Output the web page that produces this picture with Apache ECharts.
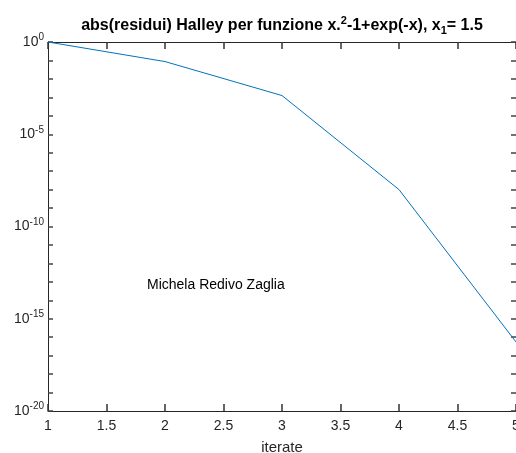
<!DOCTYPE html>
<html><head><meta charset="utf-8">
<script src="https://cdn.jsdelivr.net/npm/echarts@6/dist/echarts.min.js"></script>
<style>html,body{margin:0;padding:0;background:#fff}#c{width:516px;height:453px}</style>
</head><body><div id="c"></div>
<script>
const iterations = [1, 2, 3, 4, 5];
const residuals = [1.0, 0.087, 1.25e-3, 1.0e-8, 5.5e-17];
const xTicks = [1, 1.5, 2, 2.5, 3, 3.5, 4, 4.5, 5];
const yLabelExponents = [0, -5, -10, -15, -20];
const titleText = 'abs(residui) Halley per funzione x.{sup|2}-1+exp(-x), x{sub|1}= 1.5';
const annotation = 'Michela Redivo Zaglia';
const xName = 'iterate';

const FONT = '"Liberation Sans", Arial, Helvetica, sans-serif';
const AX = '#262626';
const chart = echarts.init(document.getElementById('c'));

function yLabel(v) {
  const e = Math.round(Math.log10(v));
  if (yLabelExponents.indexOf(e) < 0) return '';
  return '{b|10}{sup|' + e + '}';
}
function axLine() { return { show: true, onZero: false, lineStyle: { color: AX, width: 1 } }; }
function axTick(w, c, len) { return { show: true, inside: true, length: len, lineStyle: { color: c, width: w } }; }

function makeX(pos, withLabels) {
  const a = {
    type: 'value', min: 1, max: 5, interval: 0.5, position: pos,
    axisLine: axLine(), axisTick: axTick(1.5, '#333333', 7), splitLine: { show: false },
    axisLabel: { show: false }
  };
  if (withLabels) {
    a.name = xName; a.nameLocation = 'middle'; a.nameGap = 29;
    a.nameTextStyle = { fontFamily: FONT, fontSize: 15, color: AX };
    a.axisLabel = { show: true, margin: 8, fontFamily: FONT, fontSize: 14, color: AX,
      formatter: v => (xTicks.indexOf(v) >= 0 ? String(v) : '') };
  }
  return a;
}
function makeY(pos, withLabels) {
  const a = {
    type: 'log', logBase: 10, min: 1e-20, max: 1, interval: 1, position: pos,
    axisLine: axLine(), axisTick: axTick(1.5, '#444444', 5), splitLine: { show: false },
    axisLabel: { show: false }
  };
  if (withLabels) {
    a.axisLabel = { show: true, margin: 4, fontFamily: FONT, fontSize: 14, color: AX,
      formatter: yLabel, showMinLabel: true, showMaxLabel: true,
      rich: {
        b: { fontSize: 14, fontFamily: FONT, color: AX },
        sup: { fontSize: 10, fontFamily: FONT, color: AX, padding: [0, 0, 9, 0] }
      } };
  }
  return a;
}

chart.setOption({
  animation: false,
  backgroundColor: '#fff',
  title: {
    text: titleText, left: 277, top: 10, textAlign: 'center',
    textStyle: {
      fontFamily: FONT, fontSize: 16, fontWeight: 'bold', color: '#000',
      rich: {
        sup: { fontSize: 11, fontWeight: 'bold', fontFamily: FONT, color: '#000', padding: [0, 0, 11, 0] },
        sub: { fontSize: 11, fontWeight: 'bold', fontFamily: FONT, color: '#000', padding: [9, 0, 0, 0] }
      }
    }
  },
  grid: { left: 48, right: 0, top: 42, bottom: 42, containLabel: false, outerBoundsMode: 'none' },
  xAxis: [makeX('bottom', true), makeX('top', false)],
  yAxis: [makeY('left', true), makeY('right', false)],
  graphic: [{
    type: 'text', left: 147, top: 278,
    style: { text: annotation, fontFamily: FONT, fontSize: 14, fill: '#000' }
  }],
  series: [{
    type: 'line', xAxisIndex: 0, yAxisIndex: 0,
    data: iterations.map((x, i) => [x, residuals[i]]),
    showSymbol: false, symbol: 'none',
    lineStyle: { color: '#0072BD', width: 1 }
  }]
});
</script></body></html>
